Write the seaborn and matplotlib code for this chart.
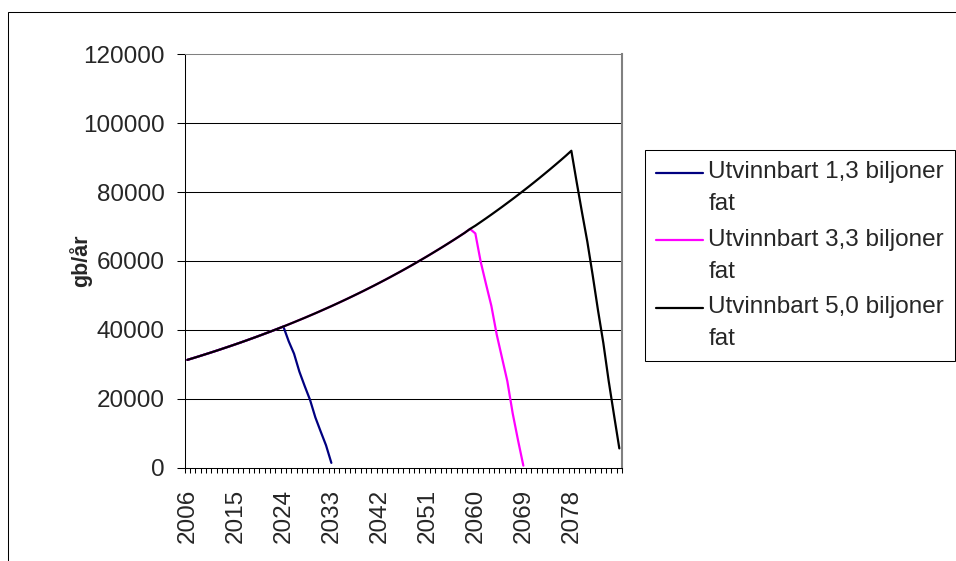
import matplotlib
matplotlib.use("Agg")
import matplotlib.pyplot as plt
import seaborn as sns
import pandas as pd
import numpy as np
from matplotlib.lines import Line2D
from matplotlib.patches import Rectangle
from matplotlib.legend_handler import HandlerLine2D

# ---- data -------------------------------------------------------------
years = list(range(2006, 2088))

# common production path (gb/år), 2006-2078
shared_path = [
    31300, 31770, 32250, 32740, 33230, 33730, 34240, 34760, 35280, 35810,
    36350, 36900, 37460, 38020, 38600, 39180, 39770, 40370, 40980, 41600,
    42230, 42870, 43510, 44170, 44830, 45510, 46200, 46890, 47600, 48320,
    49050, 49790, 50540, 51300, 52080, 52860, 53660, 54470, 55290, 56130,
    56970, 57830, 58700, 59590, 60490, 61400, 62330, 63270, 64220, 65190,
    66170, 67170, 68180, 69300, 70250, 71310, 72380, 73470, 74580, 75700,
    76850, 78000, 79180, 80370, 81580, 82810, 84060, 85330, 86610, 87920,
    89240, 90590, 92000,
]

# decline once the recoverable volume runs out
decline_13 = [36700, 33100, 27900, 23700, 19700, 14600, 10500, 6500, 1400]          # 2025-2033
decline_33 = [68000, 59800, 53300, 47000, 38700, 31900, 25100, 15800, 8000, 600]     # 2060-2069
decline_50 = [82900, 74100, 65600, 55900, 45700, 36200, 25200, 15300, 5600]          # 2079-2087

scenarios = ["Utvinnbart 1,3 biljoner fat",
             "Utvinnbart 3,3 biljoner fat",
             "Utvinnbart 5,0 biljoner fat"]
legend_labels = ["Utvinnbart 1,3 biljoner\nfat",
                 "Utvinnbart 3,3 biljoner\nfat",
                 "Utvinnbart 5,0 biljoner\nfat"]
colors = ["#000080", "#FF00FF", "#000000"]

label_years = [2006, 2015, 2024, 2033, 2042, 2051, 2060, 2069, 2078]
y_ticks = [0, 20000, 40000, 60000, 80000, 100000, 120000]

series = [
    shared_path[:19] + decline_13,
    shared_path[:54] + decline_33,
    shared_path + decline_50,
]

rows = []
for name, vals in zip(scenarios, series):
    for yr, v in zip(years, vals):
        rows.append({"year": yr, "value": v, "scenario": name})
df = pd.DataFrame(rows)

# ---- style ------------------------------------------------------------
sns.set_style("white")
plt.rcParams["font.family"] = ["Liberation Sans", "DejaVu Sans"]
FS = 17.5

W, H = 956, 561
fig = plt.figure(figsize=(W / 100, H / 100), dpi=100)
fig.patch.set_facecolor("white")

# outer chart frame
fig.patches.append(Rectangle((8 / W, -0.1), 1.2, 1.1 - 12.3 / H,
                             transform=fig.transFigure, fill=False,
                             edgecolor="black", linewidth=0.75))

left, right, top, bottom = 184.7, 622.0, 54.3, 467.7
ax = fig.add_axes([left / W, 1 - bottom / H, (right - left) / W, (bottom - top) / H])

for yv in y_ticks[1:-1]:
    ax.axhline(yv, color="black", linewidth=0.75, zorder=1)

sns.lineplot(data=df, x="year", y="value", hue="scenario", hue_order=scenarios,
             palette=colors, estimator=None, linewidth=1.6, legend=False, ax=ax,
             zorder=3)

ax.set_xlim(2005.5, 2087.5)
ax.set_ylim(0, 120000)
ax.set_xlabel("")
ax.set_ylabel("gb/år", fontsize=15.5, fontweight="bold")
ax.yaxis.set_label_coords((92 - left) / (right - left), 0.5)

ax.set_xticks(label_years)
ax.set_xticklabels([str(y) for y in label_years], rotation=90, fontsize=FS)
ax.set_xticks(np.arange(2005.5, 2088, 1.0), minor=True)
ax.tick_params(axis="x", which="major", length=0, pad=15)
ax.tick_params(axis="x", which="minor", length=3.6, width=0.75, direction="out",
               color="black", bottom=True)

ax.set_yticks(y_ticks)
ax.set_yticklabels([str(v) for v in y_ticks], fontsize=FS)
ax.tick_params(axis="y", length=6, width=0.75, direction="out", pad=8.5,
               color="black", left=True)

for side in ("left", "bottom"):
    ax.spines[side].set_color("black")
    ax.spines[side].set_linewidth(0.75)
ax.spines["top"].set_color("#808080")
ax.spines["top"].set_linewidth(0.75)
ax.spines["right"].set_color("#808080")
ax.spines["right"].set_linewidth(1.5)
ax.set_facecolor("white")


class FirstLineHandler(HandlerLine2D):
    """Place the legend line beside the first line of a wrapped label."""

    def __init__(self, shift, **kw):
        super().__init__(**kw)
        self.shift = shift

    def create_artists(self, legend, orig_handle, xdescent, ydescent,
                       width, height, fontsize, trans):
        artists = super().create_artists(legend, orig_handle, xdescent, ydescent,
                                         width, height, fontsize, trans)
        for a in artists:
            a.set_ydata([yy + self.shift for yy in a.get_ydata()])
        return artists


handles = [Line2D([], [], color=c, linewidth=1.6) for c in colors]
leg = ax.legend(handles, legend_labels, loc="upper left",
                bbox_to_anchor=(645 / W, 1 - 150 / H), bbox_transform=fig.transFigure,
                frameon=True, fancybox=False, edgecolor="black", framealpha=1,
                borderaxespad=0, borderpad=0.45, handlelength=1.95,
                handletextpad=0.2, labelspacing=0.55, fontsize=FS,
                handler_map={Line2D: FirstLineHandler(11.0)})
leg.get_frame().set_linewidth(0.75)
for t in leg.get_texts():
    t.set_linespacing(1.6)

fig.savefig("out.png", dpi=100)
